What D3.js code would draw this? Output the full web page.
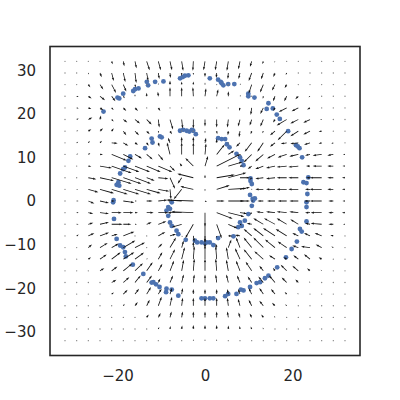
<!DOCTYPE html>
<html><head><meta charset="utf-8">
<script src="https://cdn.jsdelivr.net/npm/d3@7"></script>
<style>body{margin:0;background:#fff}</style>
</head><body>
<svg id="c" width="400" height="400"></svg>
<script>
// grid positions (data units)
const gridX = [-32,-29.33,-26.67,-24,-21.33,-18.67,-16,-13.33,-10.67,-8,-5.33,-2.67,0,2.67,5.33,8,10.67,13.33,16,18.67,21.33,24,26.67,29.33,32];
const gridY = [32,29.33,26.67,24,21.33,18.67,16,13.33,10.67,8,5.33,2.67,0,-2.67,-5.33,-8,-10.67,-13.33,-16,-18.67,-21.33,-24,-26.67,-29.33,-32];
// vector components (quiver units), rows follow gridY
const U = [
[0,0,0,0.3,1,1,1.5,3,2.5,2,1.5,-0.5,-1.5,-1.5,-1.5,-1.7,-1.7,-1,-0.5,0,0,0,0,0,0],
[0,0.3,0.7,1.7,2,2,1.3,1.5,1,0.5,0,0,0,-0.5,-0.5,-1.5,-3,-2.3,-1.7,-1,-0.3,0,0,0,0],
[0,0.7,2,3.3,4.3,3,0.7,0,0,0,0,0,0,0,0,1,-3,-3.3,-3,-2,-0.5,0,0,0,0],
[0,2,3.3,5,3.7,1.5,0,0,-0.5,0,0,-0.5,1,1.5,0,1,-1,-0.5,-2,-2.5,-3,-1.5,-0.5,0,0],
[0,2,3,3.3,2,3,3,0.5,2,0,0,0,0,0,0.5,-1,-1,-3,-2,-8,-6.7,-3,-1,0,0],
[0,2,4,1,2,4,5,5,1,3,1,0,0,0,-1,-2,-2,-3,-2,-10,-8,-6.7,-1.5,0,0],
[0.3,1.5,3,3,2,3,4,3,0.5,2,0,0,0,0.5,-0.5,-1,-1,-1,-5,-9,-8,-6.7,-3,-0.5,0],
[0.3,1.5,1.5,2,6,5,3,2,1,-2,0,0,1,0,0.5,-4,-7,-6,-5,-6,-8,-6,-3,-2,-0.5],
[0,1.5,2,3,15,10,7,6,5,-3,0,0,1,8,6,1,-8,-8,-8,-9,-9,-5,-9,-6,-2],
[0,0.5,3,12,20,16,15,14,14,5,-2,-8,3,24,14,3,-4,-8,-9,-10,-10,-4,-9,-6,-2.5],
[0,1,8,14,20,18,16,8,10,5,-4,-16,0,18,18,10,-2,-8,-9,-10,-10,-4,-12,-6,-3],
[0,1.5,10,14,16,16,16,14,11,1,-8,-13,0,13,18,10,-1,-8,-9,-10,-10,-5,-12,-6,-3],
[0,2,6,9,3,11,2,6,9,-2,-13,-27,2,8,16,10,2,-6,-8,-9,-9,-6,-12,-5,-2.5],
[0,2,5,9,10,10,3,7,10,-1,-14,-22,0,16,16,7,-2,-7,-9,-10,-9,-5,-11,-5,-3],
[0,2,5,9,11,8,2,5,8,1,-10,-8,0,5,9,2,-5,-10,-11,-10,-8,-5,-11,-5,-2],
[0,2,6,9,6,11,1,1,7,6,1,1,0,0,4,-5,-8,-10,-12,-11,-6,-6,-7,-3,0],
[0,0.5,3.7,7.7,7,12,10,1,4,6,2,0,0,-1,3,-4,-8,-10,-10,-9,-6,-9,-6,-2,0],
[0,0.5,2.7,6.7,9,11,9,1,4,5,3,1,0,-1,-2,-5,-8,-9,-6,-3,-5,-6,-3,-1,0],
[0,0,0.5,4.3,5.7,8.7,8,6,4,4,2,1,0,-1,-2,-4,-6,-4,-2,-6,-6,-3,-1,0,0],
[0,0,0,0.5,4.7,6,5.7,5.3,2,3,2,1,0,-1,-2,-3,-4,-5,-6,-5,-3,-1,0,0,0],
[0,0,0,0,2.3,4.3,4,4.3,3.3,2,1,0,0,0,-1,-2,-3,-4,-4,-2,-1,0,0,0,0],
[0,0,0,0,0,1.3,2.7,3,3.3,2,1,0,0,0,-1,-2,-3,-4,-3,-1.5,-0.5,0,0,0,0],
[0,0,0,0,0,0,0.5,2,2.3,1.5,1,0,0,0,-1,-1.5,-2,-2,-1,-0.5,0,0,0,0,0],
[0,0,0,0,0,0,0,0,1,0.5,0.5,0,0,0,0,-0.5,-1,-0.5,-0.3,0,0,0,0,0,0],
[0,0,0,0,0,0,0,0,0,0,0,0,0,0,0,0,0,0,0,0,0,0,0,0,0]
];
const V = [
[0,0,0,-0.5,-3,-5,-7,-9,-9,-9,-9.5,-9.5,-9,-9,-9.5,-8,-5.5,-2.7,-1.3,-0.3,0,0,0,0,0],
[0,-0.3,-1.5,-4.3,-8,-9,-10,-8,-6,-5,-3,-2,-4,-5,-6,-6,-8,-6.3,-4,-2,-0.5,0,0,0,0],
[0,-0.3,-2.7,-5,-8.3,-7,-3,1,1.5,4,3,3,2,1,1,1,-9,-8,-6,-3.5,-0.5,0,0,0,0],
[0,-0.7,-2.3,-4,-5,-2,2,3.5,4.5,9,9,9,8,7,5,1,-0.5,-2.5,-5,-5,-3,-1,-0.3,0,0],
[0,-0.5,-1,-2.3,-2,-3,-3,-0.5,-3,-0.5,-0.5,-0.5,0,0,1,-3,-7,-6,-3,-4,-3.3,-1.5,-0.5,0,0],
[0,1,2,4,-2,-3,-4,-5,-8,-10,-9,-9,-7,-8,-8,-7,-6,-7,-3,-6,-4,-3.3,-0.5,0,0],
[0,1,2,3,3,-4,-4,-3,-2,-3,-1,-1,-2,-3,-4,-6,-3,-2,-4,-9,-5,-3.3,-0.5,0,0],
[0,1,2,2,-0.5,-3,-2,-3,-4,5,6,6,5,4,-1,-4,-9,-9,-4,-1,-1,-2,-1,-1,0],
[0,1,1.5,0,-6,-5,-4,-5,-6,12,12,12,11,10,4,-1,-8,-7,-4,-3,-2,-1,-1,-1,0],
[0,0,-0.5,-2,-7,-6,-6,-6,-6,-5,3,8,10,12,4,0,-3,-3,-2,-1,-1,0,0,0,0],
[0,0,-1.5,-3,-6,-6,-6,-3,-1,-11,-6,4,3,3,5,0,-2,-1,-1,0,0,0,0,0,0],
[0,-0.5,-3,-4,-5,-5,-5,-4,-2,-10,-10,3,-2,4,1,2,0,0,0,0,0,0,0,0,0],
[0,0,-2.5,-2,0,-1.5,0,0,1,0,1,1,-1,0,0,0,0,0,0,0,0,0,0,0,0],
[0,0,-1,-1,0,0,0,0,0,-1,0,1,-14,-6,-4,-1,-2,1,1,1,1,0,0,0,0],
[0,0,1.5,2,0,0,0,2,3,0,-3,-14,-18,-14,-4,-1,1,6,6,6,5,1,1,0,0],
[0,1.3,2.7,3.3,2,4.3,0,0,4,2,-1,-6,-7,-2,0,1,7,8,8,7,3,3,3,1,0],
[0,0.5,3,4.7,4,7,5,0,4,10,7,6,5,4,8,10,10,10,8,6,2,1,3,1,0],
[0,0.3,2,4.7,7,7,6.7,1,7,10,12,13,14,13,12,11,10,8,4,2,4,5,2,0.5,0],
[0,0,0.3,2.7,4.3,7,7.7,8.7,7,10,11,12,12,12,11,10,9,5,3,6,5,2.5,1,0,0],
[0,0,0,0.3,2.7,5.3,7,7,4,7,8,8,8,8,8,7,6,6,7,5,3,1,0,0,0],
[0,0,0,0,1.7,4.3,5.3,7,5.3,6,6,5,5,5,5,5,6,6,5,2,1,0,0,0,0],
[0,0,0,0,0,2,3.7,6,9,9,8,8,8,8,8,7,6,5,3,1.5,0.5,0,0,0,0],
[0,0,0,0,0,0,0.5,3,4.3,6,6,6,6,6,6,5,4,3,1.5,0.5,0,0,0,0,0],
[0,0,0,0,0,0,0,0,2,3,3.5,4,4,4,3.5,3,2.5,1.5,0.5,0,0,0,0,0,0],
[0,0,0,0,0,0,0,0,0,0,1,1.5,1.5,1.5,1,0,0,0,0,0,0,0,0,0,0]
];
// scatter points (data units)
const ptsX = [-13.3,-13.0,-11.4,-9.5,-16.0,-15.2,-16.4,-18.7,-20.0,-19.6,-23.2,-5.7,-5.1,-4.6,-3.8,1.1,3.0,3.6,3.8,4.2,5.3,6.7,9.9,9.9,11.3,14.5,14.1,15.5,16.4,17.1,19.0,20.8,21.2,21.6,22.2,23.6,22.5,23.2,23.4,23.2,23.2,23.2,21.7,22.1,21.0,19.8,18.5,16.5,14.5,13.7,12.6,11.8,10.3,8.8,8.2,7.2,5.3,4.6,1.9,1.1,0,-0.8,-6.1,-7.6,-8.9,-8.8,-10.4,-11.2,-11.8,-12.2,-14.1,-16.5,-18.1,-18.3,-18.7,-19.4,-20.2,-20.8,-21.0,-20.9,-19.8,-20.2,-19.6,-18.3,-18.7,-19.4,-17.1,-17.5,-13.7,
-5.7,-5.0,-4.2,-3.6,-3.0,-2.7,-2.1,-12.2,-12.0,-10.3,-9.9,3.0,3.8,4.6,5.0,5.6,7.2,8.0,8.4,8.8,10.4,10.4,10.7,10.3,10.9,11.4,11.0,10.7,9.9,9.1,8.0,8.4,7.6,6.5,3.0,1.9,1.1,0,-0.8,0.4,-2.3,-1.8,-4.4,-6.1,-6.5,-7.6,-8.0,-8.4,-8.8,-8.0,-7.6,-8.4];
const ptsY = [27.3,26.5,27.3,27.4,25.6,25.8,25.2,24.6,23.7,23.5,20.5,28.1,28.4,28.7,28.8,28.1,27.8,27.3,27.0,26.5,26.8,26.8,24.6,24.0,23.7,22.4,21.1,21.2,19.8,18.8,16.0,12.8,12.5,12.1,10.0,5.4,4.3,4.1,1.6,-0.3,-1.4,-4.7,-6.4,-7.0,-9.3,-11.0,-12.9,-15.2,-17.1,-17.7,-18.6,-18.8,-19.7,-20.5,-20.3,-21.3,-21.3,-21.8,-22.3,-22.3,-22.3,-22.3,-21.7,-20.3,-20.9,-20.1,-19.7,-19.1,-18.6,-18.7,-16.7,-14.6,-12.7,-11.7,-10.6,-10.2,-8.7,-4.1,-0.3,0.2,4.3,3.7,3.5,7.7,7.3,6.3,10.2,9.2,12.1,
16.1,16.3,16.1,15.9,16.3,16.1,15.3,14.3,13.4,14.8,14.6,14.4,14.2,14.2,13.0,12.3,10.8,10.0,9.2,8.2,5.2,4.6,3.9,1.4,0.5,0.6,0.1,-1.1,-3.0,-4.5,-4.9,-5.7,-6.0,-8.1,-8.5,-10.1,-9.5,-9.7,-9.5,-9.5,-9.1,-9.5,-8.9,-7.6,-6.8,-5.7,-4.9,-3.4,-2.2,-1.8,-0.3,-1.4];
const xTicks = [-20, 0, 20];
const yTicks = [-30, -20, -10, 0, 10, 20, 30];
const quiverScale = 4.375; // quiver units per data unit

const svg = d3.select("#c");
const x = d3.scaleLinear().domain([-35.43, 35.43]).range([50, 360]);
const y = d3.scaleLinear().domain([-35.4, 35.4]).range([355.5, 46.5]);

// scatter
svg.append("g").selectAll("circle")
  .data(d3.range(ptsX.length))
  .join("circle")
  .attr("cx", i => x(ptsX[i])).attr("cy", i => y(ptsY[i]))
  .attr("r", 2.4).attr("fill", "#4c72b0");

// quiver
const cells = [];
gridY.forEach((gy, j) => gridX.forEach((gx, i) => cells.push({gx, gy, u: U[j][i], v: V[j][i]})));
const w = 0.8;
function arrow(d) {
  const x0 = x(d.gx), y0 = y(d.gy);
  const x1 = x(d.gx + d.u / quiverScale), y1 = y(d.gy + d.v / quiverScale);
  const dx = x1 - x0, dy = y1 - y0, L = Math.hypot(dx, dy);
  if (L < 1.2) return null;
  const ux = dx / L, uy = dy / L, nx = -uy, ny = ux;
  let hl = 3.4, hw = 2.2, sw = w;
  if (L < hl * 1.1) { const s = L / (hl * 1.1); hl *= s; hw *= s; }
  const hal = hl * 0.9;
  const P = (a, b) => [x0 + ux * a + nx * b, y0 + uy * a + ny * b];
  const pts = [P(0, sw/2), P(L - hal, sw/2), P(L - hl, hw/2), P(L, 0), P(L - hl, -hw/2), P(L - hal, -sw/2), P(0, -sw/2)];
  return "M" + pts.map(p => p[0].toFixed(2) + "," + p[1].toFixed(2)).join("L") + "Z";
}
const qg = svg.append("g");
qg.selectAll("path").data(cells.filter(d => arrow(d))).join("path")
  .attr("d", arrow).attr("fill", "#141414");
qg.selectAll("circle").data(cells.filter(d => !arrow(d))).join("circle")
  .attr("cx", d => x(d.gx)).attr("cy", d => y(d.gy)).attr("r", 0.65).attr("fill", "#7a7a7a");

// axes
const xa = svg.append("g").attr("transform", "translate(0,355.5)")
  .call(d3.axisBottom(x).tickValues(xTicks).tickSize(0).tickPadding(15));
const ya = svg.append("g").attr("transform", "translate(50,0)")
  .call(d3.axisLeft(y).tickValues(yTicks).tickSize(0).tickPadding(14));
[xa, ya].forEach(g => {
  g.select(".domain").remove();
  g.selectAll("text").attr("font-family", "DejaVu Sans").attr("font-size", 15).attr("fill", "#262626");
});
ya.selectAll("text").attr("dy", "0.33em");
svg.append("rect").attr("x", 50).attr("y", 46.5).attr("width", 310).attr("height", 309)
  .attr("fill", "none").attr("stroke", "#262626").attr("stroke-width", 1.6);
</script>
</body></html>
